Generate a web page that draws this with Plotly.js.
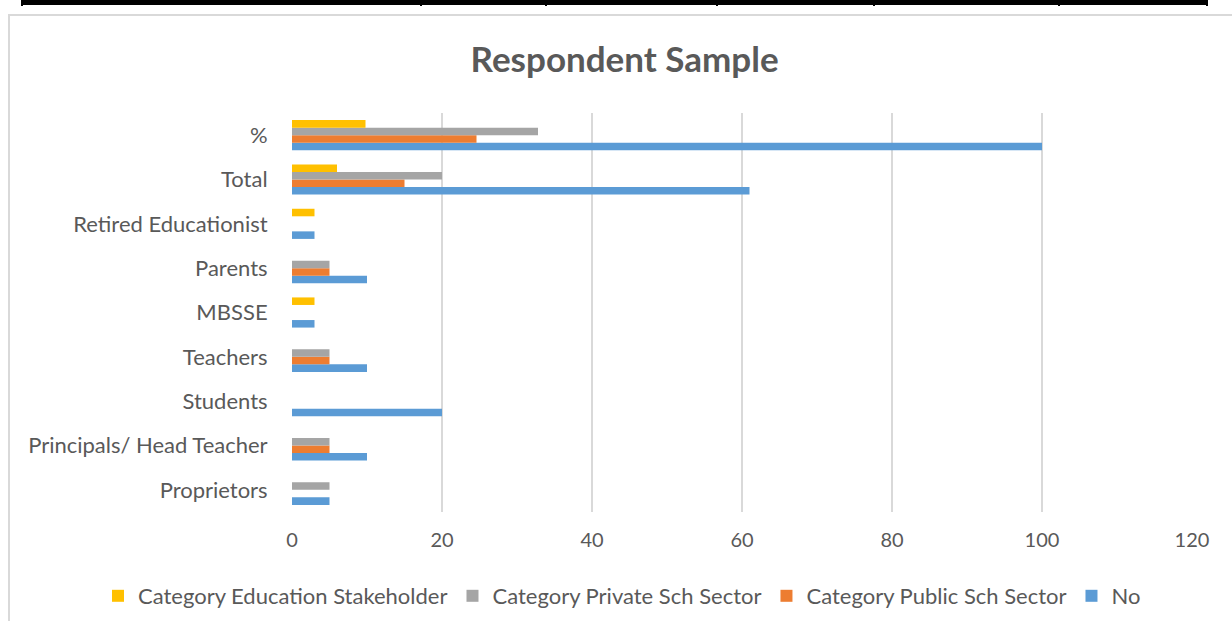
<!DOCTYPE html>
<html>
<head>
<meta charset="utf-8">
<script src="https://cdn.plot.ly/plotly-3.0.1.min.js"></script>
<style>
  html, body { margin: 0; padding: 0; width: 1232px; height: 621px; overflow: hidden; background: #fff; }
  #chart { position: absolute; left: 0; top: 0; width: 1232px; height: 621px; }
  .frame { position: absolute; left: 8px; top: 14px; width: 1300px; height: 700px; border-left: 2px solid #d9d9d9; border-top: 2px solid #d9d9d9; pointer-events: none; }
  .tbar { position: absolute; left: 21px; top: 0px; width: 1187px; height: 5px; background: #000; pointer-events: none; }
  .tdiv { position: absolute; top: 0px; width: 2px; height: 6px; background: #000; pointer-events: none; }
</style>
</head>
<body>
<div id="chart"></div>
<div class="frame"></div>
<div class="tbar"></div>
<div class="tdiv" style="left:21px"></div>
<div class="tdiv" style="left:420px"></div>
<div class="tdiv" style="left:545px"></div>
<div class="tdiv" style="left:716px"></div>
<div class="tdiv" style="left:873px"></div>
<div class="tdiv" style="left:1058px"></div>
<div class="tdiv" style="left:1206px"></div>
<script>
const categories = ["Proprietors", "Principals/ Head Teacher", "Students", "Teachers", "MBSSE", "Parents", "Retired Educationist", "Total", "%"];
const seriesNames = ["No", "Category Public Sch Sector", "Category Private Sch Sector", "Category Education Stakeholder"];
const noValues = [5, 10, 20, 10, 3, 10, 3, 61, 100];
const publicValues = [null, 5, null, 5, null, 5, null, 15, 24.6];
const privateValues = [5, 5, null, 5, null, 5, null, 20, 32.8];
const stakeholderValues = [null, null, null, null, 3, null, 3, 6, 9.8];
const xTicks = [0, 20, 40, 60, 80, 100, 120];

const colors = ["#5B9BD5", "#ED7D31", "#A5A5A5", "#FFC000"];
const allValues = [noValues, publicValues, privateValues, stakeholderValues];
const FONT = "Lato, 'Open Sans', sans-serif";
const TEXT = "#595959";

const traces = allValues.map((vals, i) => ({
  type: "bar",
  orientation: "h",
  name: seriesNames[i],
  y: categories,
  x: vals,
  marker: { color: colors[i], line: { width: 0 } },
  hoverinfo: "x+name"
}));

const layout = {
  width: 1232,
  height: 621,
  margin: { l: 292, r: 40, t: 113, b: 109, autoexpand: false },
  paper_bgcolor: "#ffffff",
  plot_bgcolor: "#ffffff",
  font: { family: FONT, color: TEXT },
  title: {
    text: "<b>Respondent Sample</b>",
    font: { family: FONT, size: 35, color: TEXT },
    x: 0.507, xanchor: "center",
    y: 1 - 60 / 621, yanchor: "middle"
  },
  barmode: "group",
  bargap: 0.32,
  bargroupgap: 0,
  xaxis: {
    range: [0, 120],
    tickvals: xTicks,
    ticktext: xTicks.map(String),
    showgrid: true,
    gridcolor: "#D9D9D9",
    gridwidth: 1.5,
    zeroline: false,
    showline: false,
    ticks: "outside",
    ticklen: 10,
    tickcolor: "rgba(0,0,0,0)",
    tickfont: { family: FONT, size: 20, color: TEXT },
    automargin: false,
    fixedrange: true
  },
  yaxis: {
    type: "category",
    categoryorder: "array",
    categoryarray: categories,
    showgrid: false,
    zeroline: false,
    showline: false,
    ticks: "outside",
    ticklen: 19,
    tickcolor: "rgba(0,0,0,0)",
    tickfont: { family: FONT, size: 22, color: TEXT },
    automargin: false,
    fixedrange: true
  },
  showlegend: true,
  legend: {
    orientation: "h",
    traceorder: "reversed",
    x: (98 - 292) / 900,
    xanchor: "left",
    y: (512 - 596) / 399,
    yanchor: "middle",
    font: { family: FONT, size: 22, color: TEXT },
    bgcolor: "rgba(0,0,0,0)"
  }
};

Plotly.newPlot("chart", traces, layout, { displayModeBar: false, staticPlot: true });
</script>
</body>
</html>
